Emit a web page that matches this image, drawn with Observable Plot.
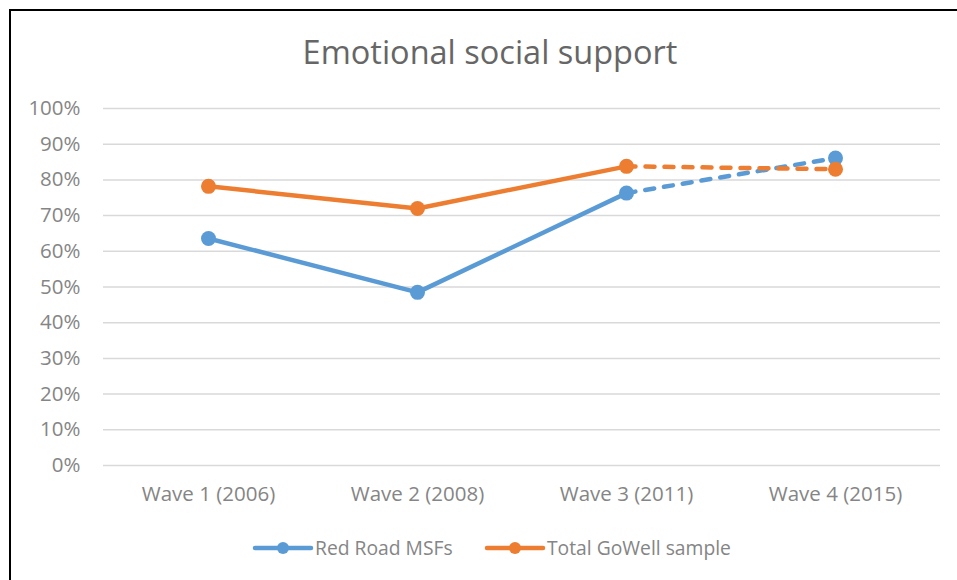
<!DOCTYPE html>
<html>
<head>
<meta charset="utf-8">
<script src="https://cdn.jsdelivr.net/npm/d3@7"></script>
<script src="https://cdn.jsdelivr.net/npm/@observablehq/plot@0.6"></script>
<style>
  html, body { margin: 0; padding: 0; background: #fff; }
  #wrap { position: relative; width: 957px; height: 580px; overflow: hidden; font-family: "Open Sans", sans-serif; }
  #frame { position: absolute; left: 9px; top: 9px; width: 1000px; height: 1000px; border-left: 2px solid #000; border-top: 2px solid #000; }
  #title { position: absolute; left: 0; width: 980px; top: 29px; text-align: center; font-size: 32.5px; color: #666666; }
  #chart { position: absolute; left: 0; top: 90px; }
  #legend { position: absolute; left: 0; top: 534px; width: 957px; height: 28px; }
</style>
</head>
<body>
<div id="wrap">
  <div id="frame"></div>
  <div id="title">Emotional social support</div>
  <div id="chart"></div>
  <svg id="legend" width="957" height="28"></svg>
</div>
<script>
const waves = ["Wave 1 (2006)", "Wave 2 (2008)", "Wave 3 (2011)", "Wave 4 (2015)"];
const seriesNames = ["Red Road MSFs", "Total GoWell sample"];
const redRoad = [63.6, 48.5, 76.3, 86.1];
const totalGoWell = [78.2, 72.0, 83.8, 83.0];
const yTicks = [0, 10, 20, 30, 40, 50, 60, 70, 80, 90, 100];
const colors = ["#5B9BD5", "#ED7D31"];

const rows = [];
[redRoad, totalGoWell].forEach((vals, s) => {
  vals.forEach((v, i) => rows.push({series: seriesNames[s], wave: waves[i], i, value: v}));
});
const solid = rows.filter(d => d.i <= 2);
const dashed = rows.filter(d => d.i >= 2);

const textColor = "#858585";
const plot = Plot.plot({
  width: 957,
  height: 420,
  marginLeft: 103,
  marginRight: 17,
  marginTop: 18,
  marginBottom: 45,
  style: {fontFamily: "Open Sans, sans-serif", fontSize: "20.5px", color: textColor, background: "transparent"},
  x: {type: "point", domain: waves, padding: 0.5, label: null},
  y: {domain: [0, 100], ticks: yTicks, label: null},
  color: {domain: seriesNames, range: colors},
  marks: [
    Plot.ruleY(yTicks, {stroke: "#D9D9D9", strokeWidth: 1.5}),
    Plot.axisY({ticks: yTicks, tickSize: 0, tickPadding: 23, tickFormat: d => d + "%", fill: textColor, fontSize: 20.5}),
    Plot.axisX({tickSize: 0, tickPadding: 21, fill: textColor, fontSize: 20.5}),
    Plot.line(dashed, {x: "wave", y: "value", z: "series", stroke: "series", strokeWidth: 4.5, strokeDasharray: "9,10", strokeLinecap: "round"}),
    Plot.line(solid, {x: "wave", y: "value", z: "series", stroke: "series", strokeWidth: 4.5, strokeLinecap: "round"}),
    Plot.dot(rows, {x: "wave", y: "value", fill: "series", r: 7.5})
  ]
});
document.getElementById("chart").appendChild(plot);

// legend
const leg = d3.select("#legend");
const items = [{x: 255, name: seriesNames[0], c: colors[0]}, {x: 487, name: seriesNames[1], c: colors[1]}];
items.forEach(it => {
  leg.append("line").attr("x1", it.x).attr("x2", it.x + 56).attr("y1", 14).attr("y2", 14)
    .attr("stroke", it.c).attr("stroke-width", 4.5).attr("stroke-linecap", "round");
  leg.append("circle").attr("cx", it.x + 28).attr("cy", 14).attr("r", 6).attr("fill", it.c);
  leg.append("text").attr("x", it.x + 60).attr("y", 14).attr("dy", "0.35em")
    .attr("font-family", "Open Sans, sans-serif").attr("font-size", 19.3).attr("fill", textColor).text(it.name);
});
</script>
</body>
</html>
